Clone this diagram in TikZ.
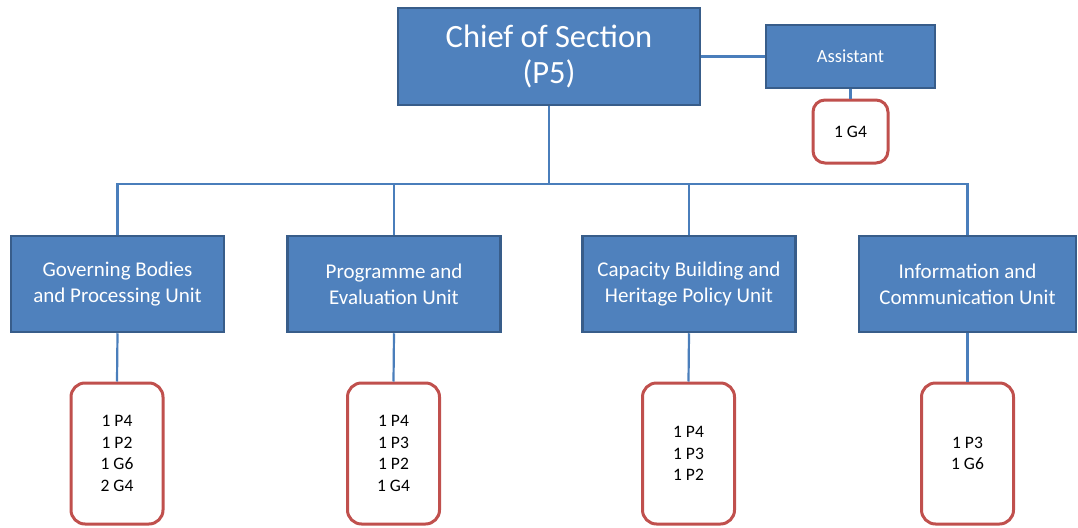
\documentclass[tikz,border=0pt]{standalone}
\usepackage{fontspec}
\setmainfont{Carlito}
\definecolor{boxfill}{HTML}{4F81BD}
\definecolor{boxdraw}{HTML}{385D8A}
\definecolor{linecol}{HTML}{4A7EBB}
\definecolor{redcol}{HTML}{C0504D}
\begin{document}
\begin{tikzpicture}[x=1pt,y=-1pt,
  bluebox/.style={draw=boxdraw,fill=boxfill,line width=2.5pt,text=white,align=center,inner sep=0pt},
  staffbox/.style={draw=redcol,fill=white,line width=3pt,rounded corners=14pt,align=center,inner sep=0pt,
     minimum width=92pt,minimum height=141pt,font=\fontsize{17.5}{21.5}\selectfont},
  unit/.style={bluebox,minimum width=213pt,minimum height=96pt,font=\fontsize{21}{26}\selectfont},
  conn/.style={draw=linecol,line width=2.2pt}]
\useasboundingbox (0,0) rectangle (1078,527);
% top
\node[bluebox,minimum width=302pt,minimum height=97pt,font=\fontsize{32.5}{36}\selectfont] (chief) at (549,56.5) {Chief of Section\\(P5)};
\node[bluebox,minimum width=169pt,minimum height=63pt,font=\fontsize{18.5}{21}\selectfont] (asst) at (850.5,56.5) {Assistant};
\node[staffbox,minimum width=75pt,minimum height=63pt,rounded corners=12pt] (g4) at (850.5,131.5) {1 G4};
% units
\node[unit] (gov) at (117.5,284) {Governing Bodies\\and Processing Unit};
\node[unit] (prog) at (394,284) {Programme and\\Evaluation Unit};
\node[unit] (cap) at (689,284) {Capacity Building and\\Heritage Policy Unit};
\node[unit,minimum width=217pt] (info) at (967.5,284) {Information and\\Communication Unit};
% staff
\node[staffbox] (sgov) at (117,453.5) {1 P4\\1 P2\\1 G6\\2 G4};
\node[staffbox] (sprog) at (393.5,453.5) {1 P4\\1 P3\\1 P2\\1 G4};
\node[staffbox] (scap) at (688.5,453.5) {1 P4\\1 P3\\1 P2};
\node[staffbox] (sinfo) at (967.5,453.5) {1 P3\\1 G6};
% connectors
\coordinate (bus) at (549,184);
\foreach \u in {gov,prog,cap,info}{
  \draw[conn] (chief.south) -- (chief.south |- bus) -| (\u.north);
}
\draw[conn] (chief.east) -- (asst.west);
\draw[conn] (asst.south) -- (g4.north);
\draw[conn] (gov.south) -- (sgov.north);
\draw[conn] (prog.south) -- (sprog.north);
\draw[conn] (cap.south) -- (scap.north);
\draw[conn] (info.south) -- (sinfo.north);
\end{tikzpicture}
\end{document}
